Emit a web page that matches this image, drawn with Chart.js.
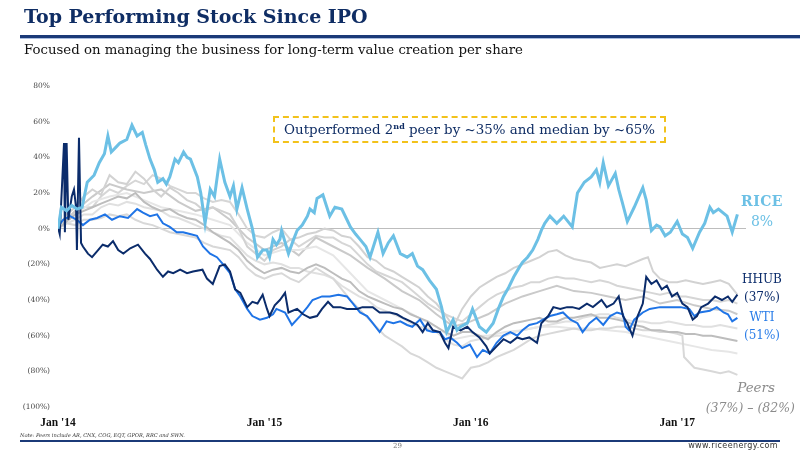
<!DOCTYPE html>
<html>
<head>
<meta charset="utf-8">
<script src="https://cdn.jsdelivr.net/npm/chart.js@4.4.1/dist/chart.umd.min.js"></script>
<style>
  body { margin: 0; width: 800px; height: 450px; overflow: hidden; background: #fff; position: relative; font-family: "DejaVu Serif", serif; }
  #c { position: absolute; left: 0; top: 0; }
  .abs { position: absolute; white-space: nowrap; }
  #title { left: 24px; top: 5px; font-size: 19px; font-weight: bold; color: #0f2d64; }
  #rule { left: 20px; top: 35px; width: 780px; height: 3px; background: #1b3a78; border-bottom: 1px solid #a9bddf; }
  #sub { left: 24px; top: 42px; font-size: 13.3px; color: #111; }
  #box { left: 273px; top: 116px; width: 389px; height: 23px; border: 2px dashed #f2c21b; font-size: 13.4px; color: #0f2d64; text-align: center; line-height: 23px; }
  #box sup { font-size: 8px; font-weight: bold; line-height: 0; }
  .lbl { text-align: center; width: 70px; left: 727px; }
  #rice1 { top: 193px; font-size: 14px; font-weight: bold; color: #6cc0e5; letter-spacing: 0.5px; }
  #rice2 { top: 213px; font-size: 14px; color: #6cc0e5; }
  #hhub1 { top: 272px; font-size: 12px; color: #0b2c6b; }
  #hhub2 { top: 290px; font-size: 12px; color: #0b2c6b; }
  #wti1 { top: 310px; font-size: 12px; color: #2a7de8; }
  #wti2 { top: 328px; font-size: 12px; color: #2a7de8; }
  #peer1 { top: 379px; right: 25px; font-size: 13.5px; font-style: italic; color: #8c8c8c; }
  #peer2 { top: 400px; right: 5px; font-size: 12.5px; font-style: italic; color: #8c8c8c; }
  #note { left: 20px; top: 432px; font-size: 5.1px; font-style: italic; color: #333; }
  #rule2 { left: 20px; top: 440px; width: 760px; height: 1.5px; background: #1b3a78; }
  #page { left: 393px; top: 442px; font-size: 7px; color: #777; }
  #web { right: 22px; top: 441px; font-size: 8px; color: #333; font-family: "DejaVu Sans", sans-serif; letter-spacing: 0.4px; }
</style>
</head>
<body>
<canvas id="c" width="800" height="450"></canvas>
<div class="abs" id="title">Top Performing Stock Since IPO</div>
<div class="abs" id="rule"></div>
<div class="abs" id="sub">Focused on managing the business for long-term value creation per share</div>
<div class="abs" id="box">Outperformed 2<sup>nd</sup> peer by ~35% and median by ~65%</div>
<div class="abs lbl" id="rice1">RICE</div>
<div class="abs lbl" id="rice2">8%</div>
<div class="abs lbl" id="hhub1">HHUB</div>
<div class="abs lbl" id="hhub2">(37%)</div>
<div class="abs lbl" id="wti1">WTI</div>
<div class="abs lbl" id="wti2">(51%)</div>
<div class="abs" id="peer1">Peers</div>
<div class="abs" id="peer2">(37%) – (82%)</div>
<div class="abs" id="note">Note: Peers include AR, CNX, COG, EQT, GPOR, RRC and SWN.</div>
<div class="abs" id="rule2"></div>
<div class="abs" id="page">29</div>
<div class="abs" id="web">www.riceenergy.com</div>
<script>
// x = months since Jan 2014, y = % return since IPO
const xTicks = [0, 12, 24, 36];
const xTickLabels = ["Jan '14", "Jan '15", "Jan '16", "Jan '17"];
const yTicks = [-100, -80, -60, -40, -20, 0, 20, 40, 60, 80];

const rice = [[0,0],[0.2,12],[0.5,10],[0.8,13],[1.1,11],[1.4,12],[1.7,26],[2.1,30],[2.4,37],[2.7,42],[2.9,52],[3.1,43],[3.4,46],[3.6,48],[4.0,50],[4.3,58],[4.6,52],[4.9,54],[5.1,47],[5.35,39],[5.6,33],[5.8,26],[6.1,28],[6.3,25],[6.5,29],[6.8,39],[7.0,37],[7.3,43],[7.5,40],[7.7,39],[8.1,29],[8.3,20],[8.55,3],[8.85,22],[9.1,18],[9.4,39],[9.7,26],[10,18],[10.2,24],[10.4,11],[10.7,23],[11,11],[11.3,0],[11.6,-16],[11.9,-12],[12.15,-12],[12.3,-16],[12.5,-6],[12.7,-9],[12.9,-6],[13.0,-1],[13.4,-14],[13.7,-6],[13.9,-1],[14.2,2],[14.5,7],[14.65,11],[14.9,9],[15.06,17],[15.4,19],[15.6,13],[15.8,7],[16.1,12],[16.5,11],[16.8,5],[17.0,1],[17.3,-3],[17.56,-6],[17.9,-10],[18.14,-16],[18.6,-2],[18.9,-14],[19.2,-8],[19.5,-4],[19.9,-14],[20.3,-16],[20.6,-14],[20.9,-21],[21.2,-23],[21.6,-29],[22.0,-34],[22.3,-44],[22.6,-58],[22.97,-51],[23.2,-57],[23.4,-55],[23.8,-53],[24.1,-45],[24.5,-55],[24.9,-58],[25.3,-53],[25.6,-45],[25.9,-38],[26.2,-33],[26.5,-27],[26.8,-22],[27.0,-19],[27.3,-16],[27.6,-12],[27.9,-6],[28.1,-1],[28.3,3],[28.6,7],[29.0,3],[29.4,7],[29.9,1],[30.2,20],[30.6,26],[31.0,29],[31.3,33],[31.5,26],[31.7,37],[32.0,24],[32.4,31],[32.6,22],[32.8,15],[33.1,4],[33.5,12],[34.0,23],[34.2,16],[34.5,-1],[34.8,2],[35.0,1],[35.3,-4],[35.6,-2],[36.0,4],[36.3,-3],[36.6,-5],[36.9,-11],[37.3,-2],[37.6,3],[37.9,12],[38.1,9],[38.4,11],[38.9,7],[39.2,-2],[39.5,8]];

const hhub = [[0,1],[0.1,-3],[0.35,48],[0.4,-2],[0.5,48],[0.6,5],[0.8,18],[0.93,22],[1.05,12],[1.1,-12],[1.22,51],[1.34,-8],[1.45,-10],[1.74,-14],[1.98,-16],[2.33,-12],[2.6,-9],[2.9,-10],[3.2,-7],[3.5,-12],[3.8,-14],[4.2,-11],[4.65,-9],[5.06,-14],[5.35,-17],[5.76,-23],[6.1,-27],[6.4,-24],[6.7,-25],[7.1,-23],[7.5,-25],[7.85,-24],[8.4,-23],[8.66,-28],[9.0,-31],[9.4,-21],[9.7,-20],[10.0,-24],[10.3,-34],[10.6,-36],[11.0,-44],[11.3,-41],[11.6,-42],[11.9,-37],[12.15,-45],[12.3,-49],[12.6,-43],[12.9,-40],[13.2,-36],[13.4,-47],[13.9,-45],[14.25,-48],[14.65,-50],[15.06,-49],[15.35,-45],[15.7,-41],[16.0,-44],[16.4,-44],[16.8,-45],[17.4,-45],[17.7,-44],[18.3,-44],[18.7,-47],[19.3,-47],[19.7,-48],[20.06,-50],[20.5,-52],[20.9,-54],[21.2,-58],[21.5,-53],[21.8,-57],[22.2,-58],[22.5,-64],[22.7,-67],[22.97,-55],[23.4,-57],[23.8,-55],[24.1,-58],[24.5,-61],[24.9,-66],[25.1,-70],[25.5,-66],[25.9,-62],[26.3,-64],[26.7,-61],[27.0,-62],[27.4,-61],[27.85,-64],[28.1,-53],[28.5,-49],[28.8,-44],[29.2,-45],[29.6,-44],[29.9,-44],[30.3,-45],[30.75,-42],[31.1,-44],[31.6,-40],[31.9,-44],[32.3,-42],[32.6,-38],[32.85,-49],[33.1,-53],[33.4,-60],[33.7,-49],[34.0,-42],[34.2,-27],[34.5,-31],[34.8,-29],[35.1,-34],[35.4,-32],[35.7,-38],[36.0,-36],[36.3,-42],[36.6,-44],[36.9,-51],[37.15,-49],[37.4,-44],[37.8,-42],[38.2,-38],[38.6,-40],[38.95,-38],[39.2,-41],[39.5,-37]];

const wti = [[0,1],[0.3,5],[0.7,7],[1.1,5],[1.45,2],[1.86,5],[2.27,6],[2.73,8],[3.14,5],[3.6,7],[4.07,6],[4.6,11],[4.94,9],[5.35,7],[5.76,8],[6.1,3],[6.5,1],[6.9,-2],[7.27,-2],[7.67,-3],[8.08,-4],[8.43,-10],[8.84,-14],[9.24,-16],[9.6,-20],[10.0,-25],[10.3,-34],[10.6,-38],[11.0,-45],[11.3,-49],[11.74,-51],[12.15,-50],[12.5,-48],[12.7,-45],[13.2,-47],[13.6,-54],[14.07,-49],[14.5,-44],[14.8,-40],[15.35,-38],[15.8,-38],[16.3,-37],[16.8,-38],[17.15,-42],[17.56,-47],[17.97,-49],[18.3,-53],[18.7,-58],[19.1,-52],[19.5,-53],[19.9,-52],[20.3,-54],[20.6,-55],[21.05,-51],[21.45,-57],[21.8,-58],[22.2,-58],[22.5,-62],[22.8,-61],[23.2,-64],[23.5,-67],[23.95,-65],[24.36,-72],[24.7,-68],[25.1,-70],[25.5,-64],[25.9,-60],[26.3,-58],[26.7,-60],[27.0,-57],[27.4,-54],[27.85,-53],[28.2,-51],[28.6,-49],[29.0,-48],[29.36,-47],[29.8,-51],[30.2,-53],[30.5,-58],[30.9,-53],[31.3,-50],[31.7,-54],[32.1,-49],[32.5,-47],[32.85,-48],[33.0,-55],[33.2,-57],[33.5,-51],[34.0,-47],[34.4,-45],[35.0,-44],[35.6,-44],[36.2,-44],[36.7,-45],[37.0,-49],[37.3,-47],[37.9,-46],[38.3,-44],[38.7,-47],[38.95,-48],[39.2,-52],[39.5,-50]];

const peerA = [[0,0],[0.5,8],[1,12],[1.5,18],[2,22],[2.5,19],[3,30],[3.5,26],[4,25],[4.5,32],[5,28],[5.5,22],[6,18],[6.5,23],[7,20],[7.5,16],[8,14],[8.5,10],[9,12],[9.5,10],[10,8],[10.5,0],[11,-10],[11.5,-14],[12,-18],[12.5,-12],[13,-10],[13.5,-6],[14,-5],[14.5,-3],[15,-2],[15.5,0],[16,-1],[16.5,-4],[17,-5],[17.5,-10],[18,-16],[18.5,-18],[19,-22],[19.5,-24],[20,-27],[20.5,-30],[21,-33],[21.5,-38],[22,-42],[22.5,-48],[23,-55],[23.5,-45],[24,-38],[24.5,-33],[25,-30],[25.5,-27],[26,-25],[26.5,-22],[27,-20],[27.5,-18],[28,-16],[28.5,-13],[29,-12],[29.5,-15],[30,-17],[30.5,-18],[31,-19],[31.5,-22],[32,-21],[32.5,-20],[33,-21],[33.5,-19],[34,-17],[34.3,-16],[34.6,-24],[35,-28],[35.5,-30],[36,-30],[36.5,-29],[37,-30],[37.5,-31],[38,-30],[38.5,-29],[39,-31],[39.5,-37]];
const peerB = [[0,0],[0.5,4],[1,8],[1.5,10],[2,12],[2.5,14],[3,16],[3.5,18],[4,17],[4.5,20],[5,15],[5.5,12],[6,10],[6.5,11],[7,8],[7.5,6],[8,5],[8.5,2],[9,-2],[9.5,-5],[10,-8],[10.5,-12],[11,-18],[11.5,-22],[12,-25],[12.5,-23],[13,-22],[13.5,-24],[14,-25],[14.5,-22],[15,-20],[15.5,-22],[16,-25],[16.5,-28],[17,-30],[17.5,-35],[18,-38],[18.5,-40],[19,-42],[19.5,-44],[20,-45],[20.5,-48],[21,-50],[21.5,-52],[22,-55],[22.5,-58],[23,-60],[23.5,-58],[24,-58],[24.5,-60],[25,-62],[25.5,-58],[26,-55],[26.5,-53],[27,-52],[27.5,-51],[28,-50],[28.5,-52],[29,-52],[29.5,-50],[30,-50],[30.5,-49],[31,-48],[31.5,-50],[32,-50],[32.5,-51],[33,-52],[33.5,-54],[34,-55],[34.5,-57],[35,-57],[35.5,-58],[36,-58],[36.5,-59],[37,-59],[37.5,-60],[38,-60],[38.5,-61],[39,-62],[39.5,-63]];
const peerC = [[0,0],[0.5,3],[1,2],[1.5,5],[2,5],[2.5,6],[3,8],[3.5,7],[4,8],[4.5,5],[5,3],[5.5,2],[6,0],[6.5,-2],[7,-3],[7.5,-4],[8,-5],[8.5,-8],[9,-10],[9.5,-11],[10,-12],[10.5,-16],[11,-22],[11.5,-26],[12,-28],[12.5,-26],[13,-25],[13.5,-28],[14,-30],[14.5,-26],[15,-22],[15.5,-25],[16,-28],[16.5,-34],[17,-40],[17.5,-45],[18,-50],[18.5,-55],[19,-60],[19.5,-63],[20,-66],[20.5,-70],[21,-72],[21.5,-75],[22,-78],[22.5,-80],[23,-82],[23.5,-84],[24,-78],[24.5,-77],[25,-75],[25.5,-72],[26,-70],[26.5,-68],[27,-65],[27.5,-62],[28,-60],[28.5,-59],[29,-58],[29.5,-57],[30,-56],[30.5,-57],[31,-57],[31.5,-56],[32,-56],[32.5,-55],[33,-55],[33.5,-56],[34,-57],[34.5,-57],[35,-58],[35.5,-58],[36,-59],[36.3,-60],[36.4,-72],[36.8,-76],[37,-78],[37.5,-79],[38,-80],[38.5,-81],[39,-80],[39.5,-82]];
const peerD = [[0,0],[1,8],[2,15],[3,18],[4,20],[5,16],[6,12],[7,10],[8,8],[9,5],[10,2],[11,-8],[12,-15],[13,-12],[14,-12],[15,-10],[16,-15],[17,-25],[18,-35],[19,-40],[20,-45],[21,-50],[22,-55],[23,-62],[24,-60],[25,-60],[26,-58],[27,-57],[28,-55],[29,-55],[30,-56],[31,-56],[32,-57],[33,-58],[34,-60],[35,-62],[36,-64],[37,-66],[38,-68],[39,-69],[39.5,-70]];
const peerE = [[0,0],[1,10],[2,18],[3,25],[4,22],[5,20],[6,22],[7,15],[8,10],[9,12],[10,5],[11,-5],[12,-12],[13,-8],[14,-15],[15,-5],[16,-10],[17,-15],[18,-22],[19,-28],[20,-35],[21,-40],[22,-48],[23,-55],[24,-52],[25,-48],[26,-42],[27,-38],[28,-35],[29,-32],[30,-35],[31,-36],[32,-38],[33,-40],[34,-38],[35,-42],[36,-40],[37,-43],[38,-45],[39,-46],[39.5,-48]];
const peerF = [[0,0],[0.5,3],[1,5],[1.5,8],[2,8],[2.5,12],[3,14],[3.5,13],[4,15],[4.5,14],[5,12],[5.5,11],[6,10],[6.5,7],[7,6],[7.5,4],[8,2],[8.5,0],[9,-2],[9.5,-4],[10,-5],[10.5,-10],[11,-15],[11.5,-18],[12,-20],[12.5,-19],[13,-20],[13.5,-22],[14,-22],[14.5,-24],[15,-25],[15.5,-26],[16,-28],[16.5,-32],[17,-35],[17.5,-38],[18,-40],[18.5,-44],[19,-46],[19.5,-48],[20,-50],[20.5,-53],[21,-55],[21.5,-56],[22,-58],[22.5,-62],[23,-65],[23.5,-66],[24,-63],[24.5,-62],[25,-61],[25.5,-60],[26,-60],[26.5,-58],[27,-57],[27.5,-56],[28,-55],[28.5,-54],[29,-53],[29.5,-52],[30,-52],[30.5,-50],[31,-49],[31.5,-48],[32,-48],[32.5,-50],[33,-51],[33.5,-52],[34,-52],[34.5,-53],[35,-53],[35.5,-52],[36,-53],[36.5,-54],[37,-54],[37.5,-55],[38,-55],[38.5,-54],[39,-55],[39.5,-56]];
const peerG = [[0,0],[0.5,5],[1,9],[1.5,12],[2,12],[2.5,18],[3,22],[3.5,20],[4,24],[4.5,27],[5,25],[5.5,30],[6,28],[6.5,24],[7,22],[7.5,20],[8,20],[8.5,17],[9,15],[9.5,16],[10,15],[10.5,8],[11,0],[11.5,-4],[12,-5],[12.5,-2],[13,0],[13.5,-6],[14,-10],[14.5,-7],[15,-4],[15.5,-5],[16,-5],[16.5,-8],[17,-10],[17.5,-15],[18,-20],[18.5,-24],[19,-26],[19.5,-28],[20,-30],[20.5,-34],[21,-38],[21.5,-42],[22,-45],[22.5,-48],[23,-50],[23.5,-52],[24,-48],[24.5,-44],[25,-40],[25.5,-37],[26,-35],[26.5,-33],[27,-32],[27.5,-30],[28,-30],[28.5,-28],[29,-27],[29.5,-28],[30,-28],[30.5,-29],[31,-30],[31.5,-29],[32,-30],[32.5,-32],[33,-33],[33.5,-34],[34,-35],[34.5,-36],[35,-37],[35.5,-36],[36,-38],[36.5,-38],[37,-39],[37.5,-40],[38,-40],[38.5,-41],[39,-40],[39.5,-42]];

const pts = a => a.map(([x, y]) => ({ x, y }));
const line = (label, arr, color, width) => ({
  label, data: pts(arr), borderColor: color, borderWidth: width,
  pointRadius: 0, tension: 0, fill: false
});

// first dataset is drawn on top
const datasets = [
  line('RICE', rice, '#6cc0e5', 3),
  line('HHUB', hhub, '#0b2c6b', 2),
  line('WTI', wti, '#1f74e6', 2),
  line('Peer A', peerA, '#d2d2d2', 2),
  line('Peer B', peerB, '#bdbdbd', 2),
  line('Peer C', peerC, '#d8d8d8', 2),
  line('Peer D', peerD, '#e6e6e6', 2),
  line('Peer E', peerE, '#cacaca', 2),
  line('Peer F', peerF, '#e0e0e0', 2),
  line('Peer G', peerG, '#d6d6d6', 2)
];

new Chart(document.getElementById('c'), {
  type: 'line',
  data: { datasets },
  options: {
    responsive: false,
    animation: false,
    devicePixelRatio: 1,
    layout: { padding: { top: 86, right: 54, left: 0, bottom: 0 } },
    plugins: { legend: { display: false }, tooltip: { enabled: false } },
    scales: {
      x: {
        type: 'linear', min: 0, max: 40,
        afterBuildTicks: s => { s.ticks = xTicks.map(v => ({ value: v })); },
        afterFit: s => { s.height = 43; },
        grid: { display: false, drawTicks: false },
        border: { display: false },
        ticks: {
          padding: 9, maxRotation: 0, autoSkip: false, color: '#111',
          font: { family: 'Liberation Serif', size: 11.5, weight: 'bold' },
          callback: v => xTickLabels[xTicks.indexOf(v)]
        }
      },
      y: {
        type: 'linear', min: -100, max: 80,
        afterBuildTicks: s => { s.ticks = yTicks.map(v => ({ value: v })); },
        afterFit: s => { s.width = 58; },
        border: { display: false },
        grid: {
          drawTicks: false, lineWidth: 1,
          color: c => (c.tick && c.tick.value === 0 ? '#bdbdbd' : 'rgba(0,0,0,0)')
        },
        ticks: {
          padding: 8, color: '#444',
          font: { family: 'DejaVu Serif', size: 7.5 },
          callback: v => (v < 0 ? '(' + (-v) + '%)' : v + '%')
        }
      }
    }
  }
});
</script>
</body>
</html>
